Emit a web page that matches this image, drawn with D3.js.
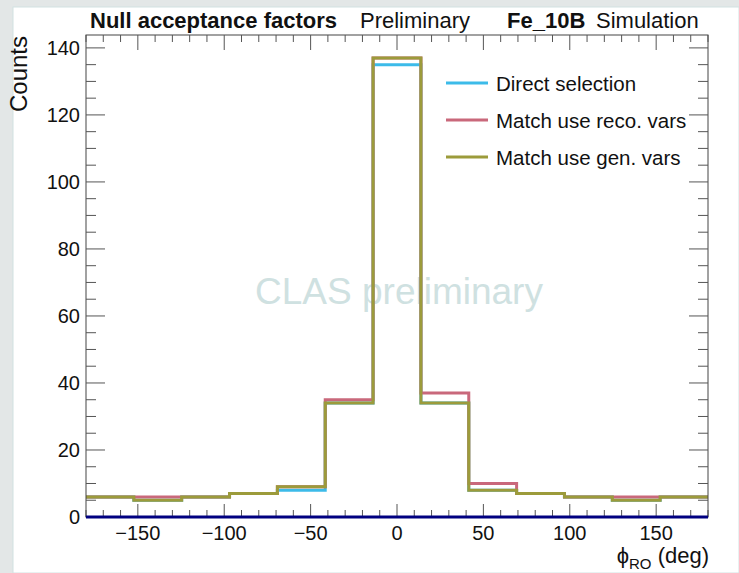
<!DOCTYPE html>
<html>
<head>
<meta charset="utf-8">
<script src="https://cdn.jsdelivr.net/npm/d3@7"></script>
<style>
  html, body { margin: 0; padding: 0; background: #e3e7e7; }
  svg { display: block; font-family: "Liberation Sans", Arial, Helvetica, sans-serif; }
</style>
</head>
<body>
<svg id="chart" width="739" height="573"></svg>
<script>
// histogram binning
const nBins = 13;
const phiMin = -180;
const phiMax = 180;

// bin contents per series
const directSel = [6, 5, 6, 7, 8, 34, 135, 34, 8, 7, 6, 5, 6];
const matchReco = [6, 6, 6, 7, 9, 35, 137, 37, 10, 7, 6, 6, 6];
const matchGen  = [6, 5, 6, 7, 9, 34, 137, 34, 8, 7, 6, 5, 6];

const seriesNames = ["Direct selection", "Match use reco. vars", "Match use gen. vars"];
const seriesColors = ["#3cbbe9", "#c9687b", "#9c9b3b"];

const xTicks = [-150, -100, -50, 0, 50, 100, 150];
const yTicks = [0, 20, 40, 60, 80, 100, 120, 140];

const margin = { left: 86, right: 31, top: 35, bottom: 56 };
const W = 739, H = 573;

const svg = d3.select("#chart");

// white pad
svg.append("rect").attr("x", 13).attr("y", 7).attr("width", W - 13).attr("height", H - 7)
  .attr("fill", "#fff").attr("stroke", "#d2e2e2").attr("stroke-width", 1);

const x = d3.scaleLinear().domain([phiMin, phiMax]).range([margin.left, W - margin.right]);
const yMax = d3.max([...directSel, ...matchReco, ...matchGen]) * 1.05;
const y = d3.scaleLinear().domain([0, yMax]).range([H - margin.bottom, margin.top]);

const binW = (phiMax - phiMin) / nBins;
const edges = d3.range(nBins + 1).map(i => phiMin + i * binW);

// watermark
svg.append("text")
  .attr("x", 399).attr("y", 304)
  .attr("text-anchor", "middle")
  .attr("font-size", 37)
  .attr("fill", "#cfe1e1")
  .text("CLAS preliminary");

// histograms
const line = d3.line()
  .x(d => x(d[0]))
  .y(d => y(d[1]))
  .curve(d3.curveStepAfter);

[directSel, matchReco, matchGen].forEach((vals, k) => {
  const pts = edges.map((e, i) => [e, vals[Math.min(i, vals.length - 1)]]);
  svg.append("path")
    .attr("d", line(pts))
    .attr("fill", "none")
    .attr("stroke", seriesColors[k])
    .attr("stroke-width", 3);
});

// frame
const x0 = x(phiMin), x1 = x(phiMax), y0 = y(0), y1 = margin.top;
svg.append("rect").attr("x", x0).attr("y", y1).attr("width", x1 - x0).attr("height", y0 - y1)
  .attr("fill", "none").attr("stroke", "#444").attr("stroke-width", 1);

const tickCol = "#555";
const g = svg.append("g").attr("stroke", tickCol).attr("stroke-width", 1);

// y ticks (left and right, inward)
d3.range(0, 141, 5).forEach(v => {
  const major = v % 20 === 0;
  const len = major ? 19 : 10;
  g.append("line").attr("x1", x0).attr("x2", x0 + len).attr("y1", y(v)).attr("y2", y(v));
  g.append("line").attr("x1", x1).attr("x2", x1 - len).attr("y1", y(v)).attr("y2", y(v));
});

// x ticks (bottom and top, inward)
d3.range(-180, 181, 10).forEach(v => {
  const major = v % 50 === 0;
  g.append("line").attr("x1", x(v)).attr("x2", x(v)).attr("y1", y0).attr("y2", y0 - (major ? 13 : 7));
  g.append("line").attr("x1", x(v)).attr("x2", x(v)).attr("y1", y1).attr("y2", y1 + (major ? 15 : 7));
});

// navy baseline
svg.append("line").attr("x1", x0).attr("x2", x1).attr("y1", y0).attr("y2", y0)
  .attr("stroke", "#000080").attr("stroke-width", 3);

// tick labels
svg.selectAll("text.ylab").data(yTicks).enter().append("text")
  .attr("class", "ylab")
  .attr("x", x0 - 6).attr("y", d => y(d) + 7)
  .attr("text-anchor", "end").attr("font-size", 20).attr("fill", "#111")
  .text(d => d);

svg.selectAll("text.xlab").data(xTicks).enter().append("text")
  .attr("class", "xlab")
  .attr("x", d => x(d)).attr("y", 540)
  .attr("text-anchor", "middle").attr("font-size", 20).attr("fill", "#111")
  .text(d => d < 0 ? "\u2212" + Math.abs(d) : d);

// axis titles
svg.append("text")
  .attr("transform", `translate(27,${y1 + 1}) rotate(-90)`)
  .attr("text-anchor", "end").attr("font-size", 24).attr("fill", "#111")
  .text("Counts");

const xt = svg.append("text")
  .attr("x", x1 + 1).attr("y", 563)
  .attr("text-anchor", "end").attr("font-size", 22).attr("fill", "#111");
xt.append("tspan").text("\u03d5");
xt.append("tspan").attr("dy", 6).attr("font-size", 15).text("RO");
xt.append("tspan").attr("dy", -6).text(" (deg)");

// title
const title = svg.append("g").attr("font-size", 22).attr("fill", "#111");
title.append("text").attr("x", 90).attr("y", 28).attr("font-weight", "bold").text("Null acceptance factors");
title.append("text").attr("x", 360).attr("y", 28).text("Preliminary");
title.append("text").attr("x", 507).attr("y", 28).attr("font-weight", "bold").text("Fe_10B");
title.append("text").attr("x", 596).attr("y", 28).text("Simulation");

// legend
const legY = [83, 120, 157];
seriesNames.forEach((name, k) => {
  svg.append("line").attr("x1", 446).attr("x2", 488).attr("y1", legY[k]).attr("y2", legY[k])
    .attr("stroke", seriesColors[k]).attr("stroke-width", 3);
  svg.append("text").attr("x", 496).attr("y", legY[k] + 8)
    .attr("font-size", 20.5).attr("fill", "#111").text(name);
});
</script>
</body>
</html>
